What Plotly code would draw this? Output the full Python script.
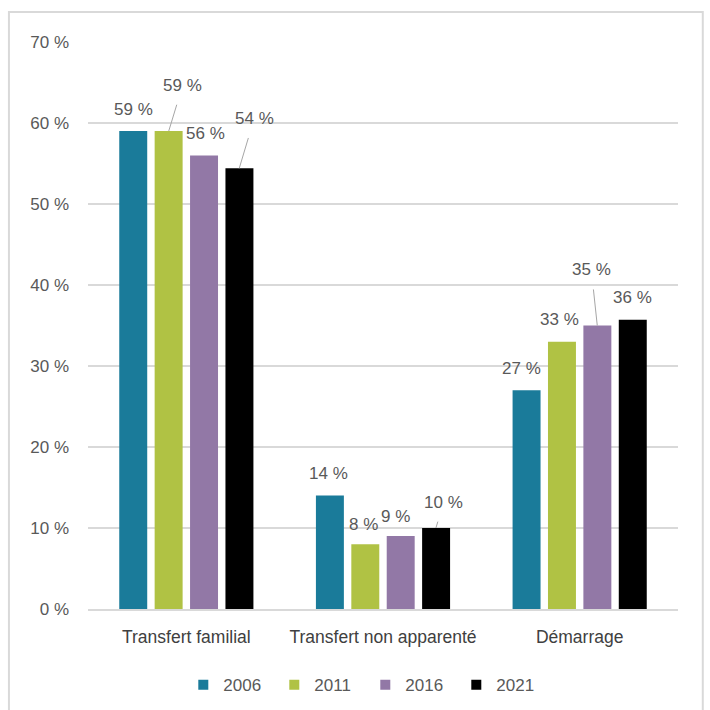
import plotly.graph_objects as go

categories = ["Transfert familial", "Transfert non apparenté", "Démarrage"]
years = ["2006", "2011", "2016", "2021"]
values = {
    "2006": [59, 14, 27],
    "2011": [59, 8, 33],
    "2016": [56, 9, 35],
    "2021": [54.4, 10, 35.7],
}
labels = {
    "2006": ["59 %", "14 %", "27 %"],
    "2011": ["59 %", "8 %", "33 %"],
    "2016": ["56 %", "9 %", "35 %"],
    "2021": ["54 %", "10 %", "36 %"],
}
colors = {"2006": "#1a7b9a", "2011": "#b0c244", "2016": "#9278a6", "2021": "#000000"}

FONT = "Liberation Sans Narrow, Arial Narrow, Liberation Sans, Arial, sans-serif"
TXT = "#595959"

fig = go.Figure()
for y in years:
    fig.add_trace(go.Bar(
        name=y, x=categories, y=values[y], showlegend=False,
        marker=dict(color=colors[y], line=dict(width=0)),
    ))
# legend entries with small square symbols
for y in years:
    fig.add_trace(go.Scatter(
        name=y, x=[None], y=[None], mode="markers",
        marker=dict(symbol="square", size=10, color=colors[y]),
        showlegend=True,
    ))

# label placement: (ax, ay) pixel offsets from bar top, leader line or not
offsets = [-52.9, -17.6, 17.6, 52.9]
place = {
    ("2006", 0): (0, -22, False), ("2011", 0): (14, -46, True),
    ("2016", 0): (2, -22, False), ("2021", 0): (15, -50, True),
    ("2006", 1): (-2, -22, False), ("2011", 1): (-2, -20, False),
    ("2016", 1): (-5, -20, False), ("2021", 1): (8, -26, True),
    ("2006", 2): (-5, -22, False), ("2011", 2): (-3, -22, False),
    ("2016", 2): (-6, -56, True), ("2021", 2): (0, -22, False),
}
for i, y in enumerate(years):
    for j, c in enumerate(categories):
        ax, ay, line = place[(y, j)]
        fig.add_annotation(
            x=c, y=values[y][j], xref="x", yref="y", xshift=offsets[i],
            text=labels[y][j], showarrow=True, arrowhead=0, arrowwidth=1,
            arrowcolor="#a6a6a6" if line else "rgba(0,0,0,0)",
            ax=ax, ay=ay, axref="pixel", ayref="pixel",
            font=dict(family=FONT, size=17, color=TXT),
            standoff=0, startstandoff=9 if line else 0,
        )

fig.add_shape(type="rect", xref="paper", yref="paper",
              x0=-0.134, x1=1.042, y0=-0.3, y1=1.053,
              line=dict(color="#d9d9d9", width=2), fillcolor="rgba(0,0,0,0)", layer="below")

fig.update_layout(
    width=710, height=710,
    margin=dict(l=88, r=32, t=42, b=101, autoexpand=False),
    paper_bgcolor="white", plot_bgcolor="white",
    barmode="group", bargap=0.28, bargroupgap=0.21,
    font=dict(family=FONT, size=16, color=TXT),
    showlegend=True,
    legend=dict(orientation="h", x=0.47, xanchor="center",
                yref="container", y=0.035, yanchor="middle",
                font=dict(family=FONT, size=17, color=TXT), itemwidth=30,
                traceorder="normal", entrywidth=46),
    xaxis=dict(showline=True, linecolor="#d9d9d9", linewidth=1.5, ticks="",
               ticklabelstandoff=11,
               tickfont=dict(family=FONT, size=17.5, color="#404040")),
    yaxis=dict(range=[0, 70], dtick=10, ticksuffix=" %", showgrid=True,
               gridcolor="#d9d9d9", gridwidth=1.5, zeroline=False,
               ticklabelstandoff=18,
               tickfont=dict(family=FONT, size=17, color=TXT)),
)

fig.write_html("out.html", config={"displayModeBar": False},
               post_script="document.body.style.margin='0';")
